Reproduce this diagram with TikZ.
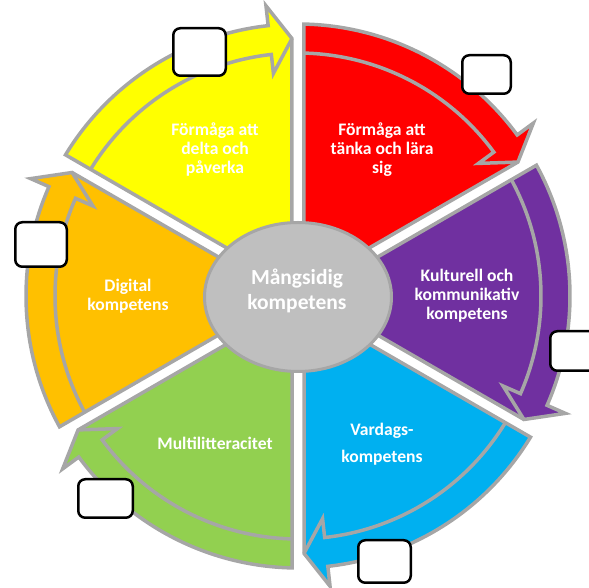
\documentclass[tikz,border=0pt]{standalone}
\usepackage{fontspec}
\setmainfont{Carlito}
\usetikzlibrary{shapes.geometric}
\definecolor{segyellow}{HTML}{FFFF00}
\definecolor{segred}{HTML}{FF0000}
\definecolor{segpurple}{HTML}{7030A0}
\definecolor{segblue}{HTML}{00B0F0}
\definecolor{seggreen}{HTML}{92D050}
\definecolor{segorange}{HTML}{FFC000}
\definecolor{rim}{HTML}{A6A6A6}
\definecolor{hubfill}{HTML}{BFBFBF}
\tikzset{
  seg/.style={draw=rim, line width=3.5pt, line join=miter},
  segline/.style={draw=rim, line width=3.5pt},
  lbl/.style={text=white, font=\bfseries\fontsize{17.6pt}{19pt}\selectfont, align=center, inner sep=0pt},
  hublbl/.style={text=white, font=\bfseries\fontsize{21.5pt}{25pt}\selectfont, align=center, inner sep=0pt},
  hubshape/.style={ellipse, fill=hubfill, draw=rim, line width=3pt, minimum width=187pt, minimum height=149pt, inner sep=0pt},
  blank/.style={draw=black, line width=2.5pt, fill=white, rounded corners=7pt, inner sep=0pt}
}
\begin{document}
\begin{tikzpicture}[x=1pt,y=1pt]
\useasboundingbox (0,0) rectangle (589,588);
\clip (0,0) rectangle (589,588);
\begin{scope}[shift={(298pt,292pt)}]
\foreach \col/\a in {segred/90, segpurple/30, segblue/-30, seggreen/-90, segorange/-150, segyellow/150}{
  \pgfmathsetmacro\b{\a-60}
  \path[seg, fill=\col] ({\a-30}:12pt) -- ({\a-1.26}:272pt)
     arc[start angle={\a-1.26}, end angle={\b+6.3}, radius=272pt]
     -- ({\b+6.3}:292pt) -- ({\b+1.34}:257.5pt) -- cycle;
  \draw[segline] ({\b+1.34}:257.5pt) -- ({\b+6.3}:224pt) -- ({\b+6.3}:243pt)
     arc[start angle={\b+6.3}, end angle={\a-1.41}, radius=243pt];
}
\end{scope}
\node[hubshape] (hub) at (298,291) {};
\node[hublbl] (hubtext) at (297,297) {Mångsidig\\kompetens};
\node[lbl] (tyellow) at (215,438) {Förmåga att\\delta och\\påverka};
\node[lbl] (tred) at (382,438) {Förmåga att\\tänka och lära\\sig};
\node[lbl] (tpurple) at (467,292) {Kulturell och\\kommunikativ\\kompetens};
\node[lbl] (tblue) at (382,144) {Vardags-\\[8pt]kompetens};
\node[lbl] (tgreen) at (215,145) {Multilitteracitet};
\node[lbl] (torange) at (128,292) {Digital\\kompetens};
\node[blank, minimum width=52.5pt, minimum height=47.5pt] (box1) at (199.5,536) {};
\node[blank, minimum width=48.5pt, minimum height=38.5pt] (box2) at (486.5,513.5) {};
\node[blank, minimum width=51.5pt, minimum height=44.5pt] (box3) at (41,343.5) {};
\node[blank, minimum width=53.5pt, minimum height=39.5pt] (box4) at (577,237) {};
\node[blank, minimum width=54.5pt, minimum height=38.5pt] (box5) at (105.5,89.5) {};
\node[blank, minimum width=52.5pt, minimum height=42.5pt] (box6) at (384.5,26.5) {};
\end{tikzpicture}
\end{document}
